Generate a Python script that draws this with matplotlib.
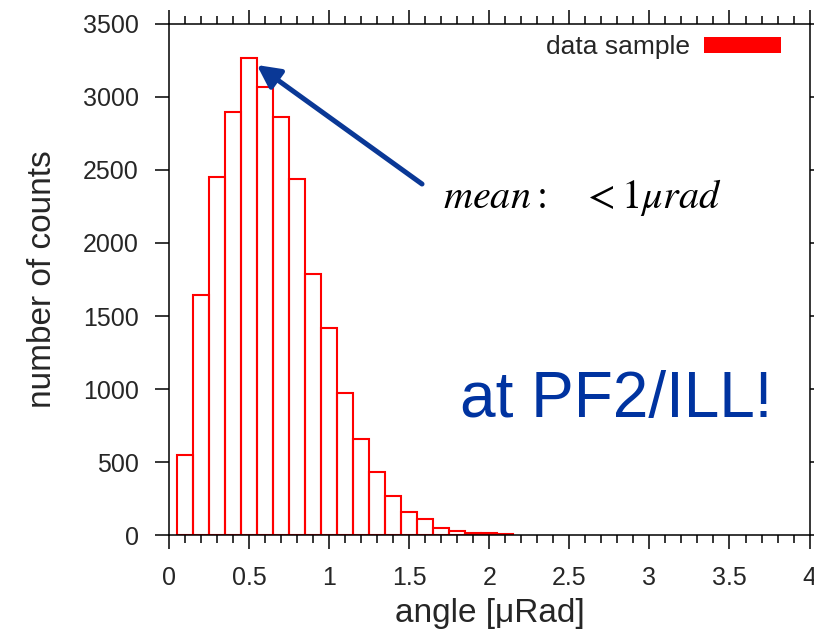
import matplotlib
matplotlib.use("Agg")
import matplotlib.pyplot as plt
from matplotlib.patches import Patch
from matplotlib.ticker import MultipleLocator

# ---- data ----
bin_left = [0.05, 0.15, 0.25, 0.35, 0.45, 0.55, 0.65, 0.75, 0.85, 0.95, 1.05,
            1.15, 1.25, 1.35, 1.45, 1.55, 1.65, 1.75, 1.85, 1.95, 2.05]
counts = [546, 1644, 2454, 2899, 3265, 3066, 2861, 2438, 1788, 1420, 970,
          658, 429, 267, 160, 110, 46, 29, 14, 12, 10]
bin_width = 0.1
x_ticks = [0, 0.5, 1, 1.5, 2, 2.5, 3, 3.5, 4]
x_tick_labels = ["0", "0.5", "1", "1.5", "2", "2.5", "3", "3.5", "4"]
y_ticks = [0, 500, 1000, 1500, 2000, 2500, 3000, 3500]
y_tick_labels = ["0", "500", "1000", "1500", "2000", "2500", "3000", "3500"]
legend_label = "data sample"
x_label = "angle [\u03bcRad]"
y_label = "number of counts"
arrow_tip = (0.547, 3219)
arrow_tail = (1.579, 2404)
mean_text = r"$mean:\quad <1\mu rad$"
mean_pos = (1.71, 2240)
site_text = "at PF2/ILL!"
site_pos = (1.818, 810)

plt.rcParams["font.family"] = ["Liberation Sans", "DejaVu Sans"]
plt.rcParams["mathtext.fontset"] = "stix"

fig = plt.figure(figsize=(8.14, 6.33), dpi=100)
ax = fig.add_axes([0.208, 0.1548, 0.7865, 0.8073])

ax.bar(bin_left, counts, width=bin_width, align="edge", fill=False,
       edgecolor="#ff0000", linewidth=1.5, label=None)

ax.set_xlim(0, 4)
ax.set_ylim(0, 3500)
ax.set_xticks(x_ticks)
ax.set_xticklabels(x_tick_labels)
ax.set_yticks(y_ticks)
ax.set_yticklabels(y_tick_labels)
ax.xaxis.set_minor_locator(MultipleLocator(0.1))

txtc = "#262626"
ax.tick_params(axis="both", which="major", direction="out", length=10, width=1.1,
               top=True, right=True, labelsize=18, pad=12, colors="black",
               labelcolor=txtc)
ax.tick_params(axis="x", which="minor", direction="out", length=6, width=1.1,
               top=True, bottom=True)
for s in ax.spines.values():
    s.set_linewidth(1.1)

ax.set_xlabel(x_label, fontsize=24, color=txtc, labelpad=6)
ax.set_ylabel(y_label, fontsize=24, color=txtc, labelpad=18)

handle = Patch(facecolor="#ff0000", edgecolor="none")
ax.legend([handle], [legend_label], loc="center right",
          bbox_to_anchor=(0.955, 0.955), frameon=False, markerfirst=False,
          fontsize=19, handlelength=2.9, handleheight=0.55, handletextpad=0.55,
          borderpad=0, borderaxespad=0, labelcolor=txtc)

blue = "#0a3896"
ax.annotate("", xy=arrow_tip, xytext=arrow_tail,
            arrowprops=dict(arrowstyle="-|>,head_length=0.55,head_width=0.28",
                            color=blue, lw=3.6, mutation_scale=25,
                            shrinkA=0, shrinkB=0))
ax.text(mean_pos[0], mean_pos[1], mean_text, fontsize=29, color="black",
        ha="left", va="baseline")
ax.text(site_pos[0], site_pos[1], site_text, fontsize=46, color="#0033a0",
        ha="left", va="baseline")

fig.savefig("out.png", dpi=100)
